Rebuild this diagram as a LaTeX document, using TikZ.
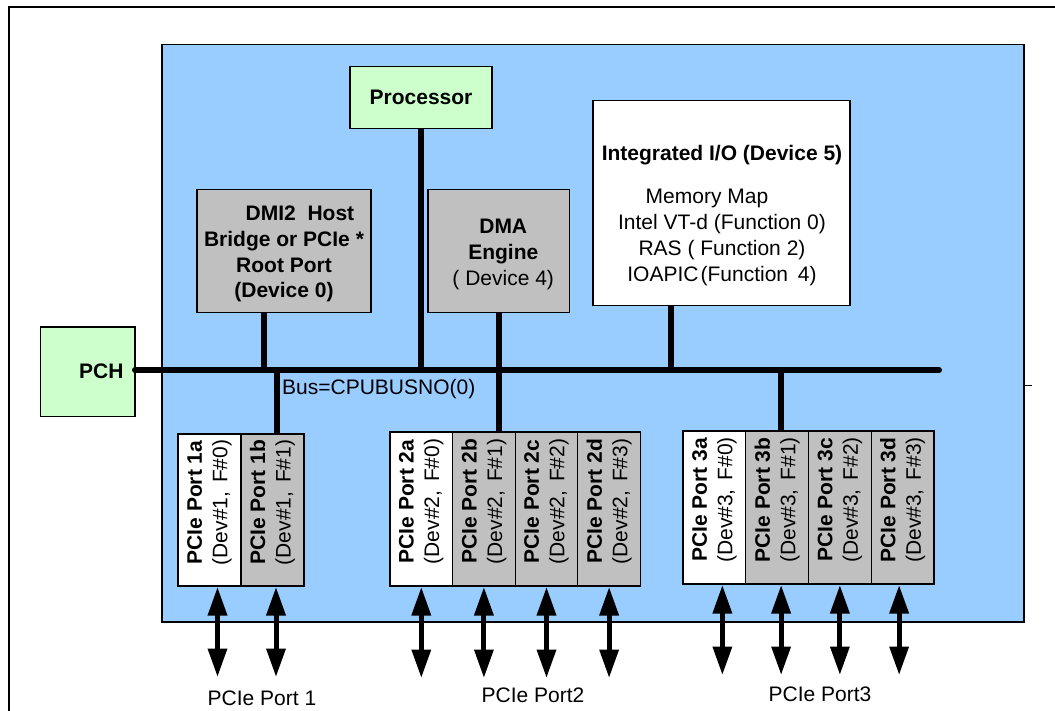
\documentclass[tikz,border=0pt]{standalone}
\usepackage{fontspec}
\setmainfont{Liberation Sans}
\usetikzlibrary{arrows.meta,calc}
\definecolor{socblue}{HTML}{99CCFF}
\definecolor{pchgreen}{HTML}{CCFFCC}
\definecolor{devgray}{HTML}{C0C0C0}
\begin{document}
\begin{tikzpicture}[x=1pt,y=-1pt,
  box/.style={draw=black,line width=1.2pt,inner sep=0pt,outer sep=0pt,anchor=north west},
  txt/.style={font=\fontsize{21}{25.5}\selectfont,inner sep=0pt,align=center},
  btxt/.style={font=\fontsize{21}{25.5}\selectfont\bfseries,inner sep=0pt,align=center},
  porttxt/.style={txt,rotate=90},
  p1/.style={box,minimum width=63pt,minimum height=152pt},
  p2/.style={box,minimum width=62.6pt,minimum height=154pt},
  p3/.style={box,minimum width=62.75pt,minimum height=153pt},
  bus/.style={line width=6pt,line cap=round},
  link/.style={line width=5.5pt},
  dbl/.style={line width=5pt,{Triangle[width=18.5pt,length=28.5pt]}-{Triangle[width=18.5pt,length=28.5pt]}},
]
\useasboundingbox (0,0) rectangle (1055,711);
\clip (0,0) rectangle (1055,711);
% outer frame (clipped)
\draw[line width=2pt] (8.5,730) -- (8.5,7.5) -- (1070,7.5);
% SoC area
\node[box,fill=socblue,minimum width=862pt,minimum height=577.5pt] (soc) at (162,44.5) {};
\coordinate (tick) at (1032,385);
\draw[line width=1pt] (tick -| soc.east) -- (tick);
% coordinates
\coordinate (busR) at (939,370);
% top devices
\node[box,fill=pchgreen,minimum width=142pt,minimum height=62pt,btxt] (proc) at (350,66.5) {Processor};
\node[box,fill=devgray,minimum width=174pt,minimum height=123pt] (dmi) at (197,189.5) {};
\node[btxt,font=\fontsize{21}{25.7}\selectfont\bfseries] (dmitxt) at ($(dmi.center)+(0,3)$)
  {\hspace*{32pt}DMI2\ \ Host\\Bridge or PCIe *\\Root Port\\(Device 0)};
\node[box,fill=devgray,minimum width=141.5pt,minimum height=123pt] (dma) at (428,189.5) {};
\node[txt,font=\fontsize{21}{26}\selectfont] (dmatxt) at ($(dma.center)+(4.5,3)$) {\textbf{DMA}\\\textbf{Engine}\\( Device 4)};
\node[box,fill=white,minimum width=257pt,minimum height=205pt] (iio) at (593,100.8) {};
\node[txt,font=\fontsize{21}{25.8}\selectfont] (iiotxt) at (722,215.5) {\textbf{Integrated I/O (Device 5)}\\[17.7pt]Memory Map\rule{30pt}{0pt}\\Intel VT-d (Function 0)\\RAS ( Function 2)\\IOAPIC\kern2pt(Function \kern4pt4)};
\node[box,fill=pchgreen,minimum width=94.5pt,minimum height=89.5pt,btxt] (pch) at (40.5,327) {\hspace*{27pt}PCH};
% port boxes
\node[p1,fill=white]   (p1a) at (178,434) {};
\node[p1,fill=devgray] (p1b) at (241,434) {};
\node[p2,fill=white]   (p2a) at (390,432) {};
\node[p2,fill=devgray] (p2b) at (452.6,432) {};
\node[p2,fill=devgray] (p2c) at (515.2,432) {};
\node[p2,fill=devgray] (p2d) at (577.8,432) {};
\node[p3,fill=white]   (p3a) at (683,431) {};
\node[p3,fill=devgray] (p3b) at (745.75,431) {};
\node[p3,fill=devgray] (p3c) at (808.5,431) {};
\node[p3,fill=devgray] (p3d) at (871.25,431) {};
\node[porttxt] (t1a) at ($(p1a.center)+(0,-7.5)$) {\textbf{PCIe Port 1a}\\(Dev\#1, \kern3pt F\#0)};
\node[porttxt] (t1b) at ($(p1b.center)+(0,-7.5)$) {\textbf{PCIe Port 1b}\\(Dev\#1, \kern3pt F\#1)};
\node[porttxt] (t2a) at ($(p2a.center)+(0,-7.5)$) {\textbf{PCIe Port 2a}\\(Dev\#2, \kern3pt F\#0)};
\node[porttxt] (t2b) at ($(p2b.center)+(0,-7.5)$) {\textbf{PCIe Port 2b}\\(Dev\#2, \kern3pt F\#1)};
\node[porttxt] (t2c) at ($(p2c.center)+(0,-7.5)$) {\textbf{PCIe Port 2c}\\(Dev\#2, \kern3pt F\#2)};
\node[porttxt] (t2d) at ($(p2d.center)+(0,-7.5)$) {\textbf{PCIe Port 2d}\\(Dev\#2, \kern3pt F\#3)};
\node[porttxt] (t3a) at ($(p3a.center)+(0,-7.5)$) {\textbf{PCIe Port 3a}\\(Dev\#3, \kern3pt F\#0)};
\node[porttxt] (t3b) at ($(p3b.center)+(0,-7.5)$) {\textbf{PCIe Port 3b}\\(Dev\#3, \kern3pt F\#1)};
\node[porttxt] (t3c) at ($(p3c.center)+(0,-7.5)$) {\textbf{PCIe Port 3c}\\(Dev\#3, \kern3pt F\#2)};
\node[porttxt] (t3d) at ($(p3d.center)+(0,-7.5)$) {\textbf{PCIe Port 3d}\\(Dev\#3, \kern3pt F\#3)};
% bus
\draw[bus] (pch.east |- busR) -- (busR);
\node[txt,anchor=west] (buslbl) at (282,389) {Bus=CPUBUSNO(0)};
% links
\draw[link] (proc.south) -- (proc.south |- busR);
\draw[link] ($(dmi.south)+(-20,0)$) -- ($(dmi.south |- busR)+(-20,0)$);
\draw[link] (dma.south) -- (dma.south |- p2b.north);
\draw[link] ($(iio.south)+(-50.5,0)$) -- ($(iio.south |- busR)+(-50.5,0)$);
\draw[link] ($(p1b.north |- busR)+(4.5,0)$) -- ($(p1b.north)+(4.5,0)$);
\draw[link] ($(p3b.north |- busR)+(4,0)$) -- ($(p3b.north)+(4,0)$);
% external arrows
\coordinate (bot1) at (0,677);
\coordinate (bot2) at (0,678);
\coordinate (bot3) at (0,675);
\draw[dbl] ($(p1a.south)+(8,1)$) -- ($(p1a.south |- bot1)+(8,0)$);
\draw[dbl] ($(p1b.south)+(3.5,1)$) -- ($(p1b.south |- bot1)+(3.5,0)$);
\draw[dbl] ($(p2a.south)+(0,1)$) -- (p2a.south |- bot2);
\draw[dbl] ($(p2b.south)+(0,1)$) -- (p2b.south |- bot2);
\draw[dbl] ($(p2c.south)+(0,1)$) -- (p2c.south |- bot2);
\draw[dbl] ($(p2d.south)+(0,1)$) -- (p2d.south |- bot2);
\draw[dbl] ($(p3a.south)+(8,1)$) -- ($(p3a.south |- bot3)+(8,0)$);
\draw[dbl] ($(p3b.south)+(4,1)$) -- ($(p3b.south |- bot3)+(4,0)$);
\draw[dbl] ($(p3c.south)+(0,1)$) -- (p3c.south |- bot3);
\draw[dbl] ($(p3d.south)+(-3.5,1)$) -- ($(p3d.south |- bot3)+(-3.5,0)$);
% group labels
\node[txt] (l1) at (262,698) {PCIe Port 1};
\node[txt] (l2) at (533,695) {PCIe Port2};
\node[txt] (l3) at (820,694) {PCIe Port3};
\end{tikzpicture}
\end{document}
